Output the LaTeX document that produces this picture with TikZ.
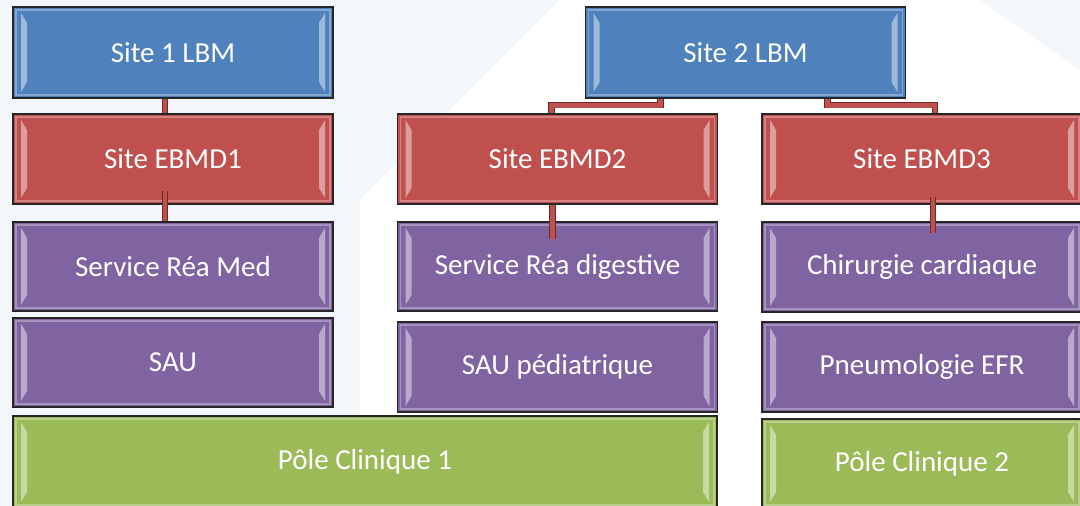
\documentclass[tikz,border=0pt]{standalone}
\usepackage{fontspec}
\setmainfont{Carlito}
\usetikzlibrary{calc}
\definecolor{cBlue}{HTML}{4F81BD}
\definecolor{cRed}{HTML}{C0504D}
\definecolor{cPurple}{HTML}{8064A2}
\definecolor{cGreen}{HTML}{9BBB59}
\definecolor{cBack}{HTML}{F4F7FA}

\begin{document}
\begin{tikzpicture}[x=0.5pt, y=-0.5pt,
	box/.style={draw=black!85, line width=0.8pt, inner sep=0pt, minimum width=160pt, minimum height=45pt, text=white, font=\fontsize{14.5}{17}\selectfont, bevel},
	bevel/.style={path picture={
		\coordinate (tl) at (path picture bounding box.north west);
		\coordinate (br) at (path picture bounding box.south east);
		\coordinate (tr) at (path picture bounding box.north east);
		\coordinate (bl) at (path picture bounding box.south west);
		\draw[white, opacity=.3, line width=0.8pt] ([shift={(1.5pt,-1.5pt)}]tl) rectangle ([shift={(-1.5pt,1.5pt)}]br);
		\fill[white, opacity=.45] ([shift={(4pt,-3pt)}]tl) -- ([shift={(7pt,-8pt)}]tl) -- ([shift={(7pt,8pt)}]bl) -- ([shift={(4pt,3pt)}]bl) -- cycle;
		\fill[white, opacity=.45] ([shift={(-4pt,-3pt)}]tr) -- ([shift={(-7pt,-8pt)}]tr) -- ([shift={(-7pt,8pt)}]br) -- ([shift={(-4pt,3pt)}]br) -- cycle;
	}},
	link/.style={draw=cRed!55!black, line width=0.4pt, double=cRed, double distance=2.4pt}]
	\useasboundingbox (0,0) rectangle (1080,506);
	% faint background
	\fill[cBack] (0,0) rectangle (1080,506);
	\fill[white] (360,506) -- (360,200) -- (560,0) -- (980,0) -- (1080,70) -- (1080,506) -- cycle;

	% first site
	\node[box, fill=cBlue, minimum height=45.5pt] (lbm1) at (173,52.5) {Site 1 LBM};
	\node[box, fill=cRed] (ebmd1) at (173,159) {Site EBMD1};
	\node[box, fill=cPurple, minimum height=44.5pt] (reamed) at (173,266.5) {Service Réa Med};
	\node[box, fill=cPurple, minimum height=44.5pt] (sau) at (173,362.5) {SAU};
	\node[box, fill=cGreen, minimum width=352pt, minimum height=46pt] (pole1) at (365,462) {Pôle Clinique 1};

	% second site
	\node[box, fill=cBlue, minimum height=45.5pt] (lbm2) at (745.5,52.5) {Site 2 LBM};
	\node[box, fill=cRed] (ebmd2) at (557.5,159) {Site EBMD2};
	\node[box, fill=cPurple, minimum height=44.5pt] (readig) at (557.5,266.5) {Service Réa digestive};
	\node[box, fill=cPurple] (sauped) at (557.5,367) {SAU pédiatrique};
	\node[box, fill=cRed] (ebmd3) at (922,159) {Site EBMD3};
	\node[box, fill=cPurple] (chir) at (922,267) {Chirurgie cardiaque};
	\node[box, fill=cPurple] (pneumo) at (922,367) {Pneumologie EFR};
	\node[box, fill=cGreen, minimum height=44.5pt] (pole2) at (922,463.5) {Pôle Clinique 2};

	% connectors
	\draw[link] ($(lbm1.south)+(-8,0)$) -- ($(ebmd1.north)+(-8,0)$);
	\draw[link] ($(ebmd1.south)+(-8,-14)$) -- ($(reamed.north)+(-8,0)$);
	\draw[link] ($(lbm2.south)+(-85,0)$) |- ($(ebmd2.north)+(-6,-8)$) -- (ebmd2.north -| 551.5,0);
	\draw[link] ($(lbm2.south)+(82,0)$) |- ($(ebmd3.north)+(13,-8)$) -- (ebmd3.north -| 935,0);
	\draw[link] ($(ebmd2.south)+(-5,0)$) -- ($(readig.north)+(-5,18)$);
	\draw[link] ($(ebmd3.south)+(11,-8)$) -- ($(chir.north)+(11,12)$);
\end{tikzpicture}
\end{document}
